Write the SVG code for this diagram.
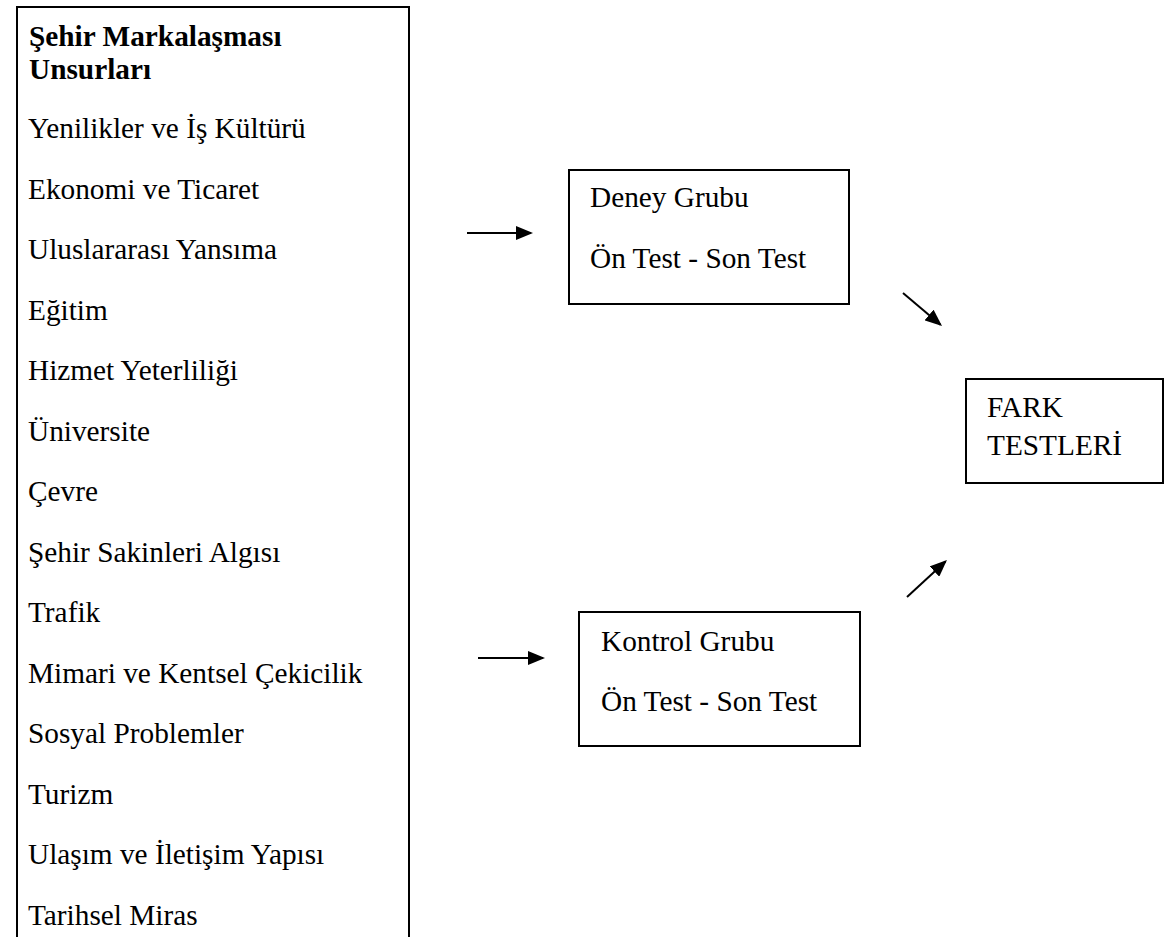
<svg xmlns="http://www.w3.org/2000/svg" width="1165" height="937" viewBox="0 0 1165 937">
<style>
  .box { fill: #fff; stroke: #000; stroke-width: 2; }
  .t { font-family: "Liberation Serif", "Times New Roman", serif; font-size: 29.3px; fill: #000; }
  .b { font-weight: bold; }
  .conn { stroke: #000; stroke-width: 2; fill: none; marker-end: url(#ah); }
</style>
<defs>
  <marker id="ah" markerUnits="userSpaceOnUse" markerWidth="17" markerHeight="14" refX="15" refY="7" orient="auto">
    <path d="M0,0 L17,7 L0,14 z" fill="#000"/>
  </marker>
</defs>
<rect width="1165" height="937" fill="#fff"/>
<g id="unsurlar">
  <path class="box" d="M17,940 V7 H409 V940" fill="#fff"/>
  <text class="t b" x="29" y="46">Şehir Markalaşması</text>
  <text class="t b" x="29" y="79">Unsurları</text>
  <text class="t" x="28" y="138">Yenilikler ve İş Kültürü</text>
  <text class="t" x="28" y="198.5">Ekonomi ve Ticaret</text>
  <text class="t" x="28" y="259">Uluslararası Yansıma</text>
  <text class="t" x="28" y="319.5">Eğitim</text>
  <text class="t" x="28" y="380">Hizmet Yeterliliği</text>
  <text class="t" x="28" y="440.5">Üniversite</text>
  <text class="t" x="28" y="501">Çevre</text>
  <text class="t" x="28" y="561.5">Şehir Sakinleri Algısı</text>
  <text class="t" x="28" y="622">Trafik</text>
  <text class="t" x="28" y="682.5">Mimari ve Kentsel Çekicilik</text>
  <text class="t" x="28" y="743">Sosyal Problemler</text>
  <text class="t" x="28" y="803.5">Turizm</text>
  <text class="t" x="28" y="864">Ulaşım ve İletişim Yapısı</text>
  <text class="t" x="28" y="924.5">Tarihsel Miras</text>
</g>
<g id="deney">
  <rect class="box" x="569" y="170" width="280" height="134"/>
  <text class="t" x="590" y="207">Deney Grubu</text>
  <text class="t" x="590" y="268">Ön Test - Son Test</text>
</g>
<g id="kontrol">
  <rect class="box" x="579" y="612" width="281" height="134"/>
  <text class="t" x="601" y="651">Kontrol Grubu</text>
  <text class="t" x="601" y="711">Ön Test - Son Test</text>
</g>
<g id="fark">
  <rect class="box" x="966" y="379" width="197" height="104"/>
  <text class="t" x="987" y="417">FARK</text>
  <text class="t" x="987" y="455">TESTLERİ</text>
</g>
<g id="connectors">
  <line class="conn" x1="467" y1="233" x2="531" y2="233"/>
  <line class="conn" x1="478" y1="658" x2="543" y2="658"/>
  <line class="conn" x1="903" y1="293" x2="940.5" y2="324.7"/>
  <line class="conn" x1="907" y1="597" x2="945.5" y2="561.4"/>
</g>
</svg>
